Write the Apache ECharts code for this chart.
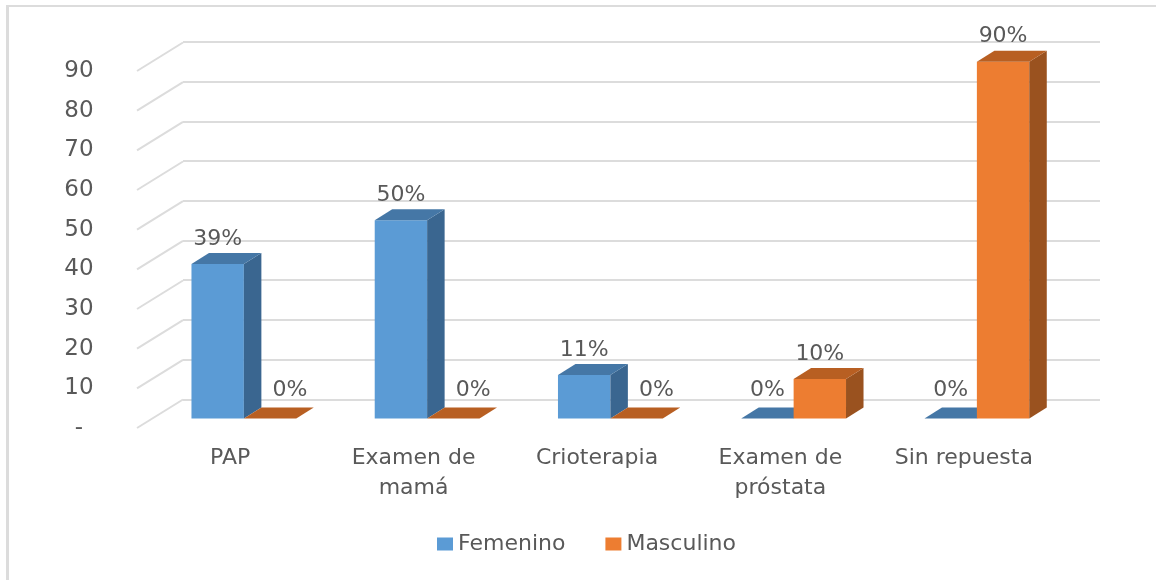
<!DOCTYPE html>
<html>
<head>
<meta charset="utf-8">
<style>
  html, body { margin: 0; padding: 0; background: #fff; }
  #chart { width: 1156px; height: 580px; }
</style>
<script src="https://cdn.jsdelivr.net/npm/echarts@6/dist/echarts.min.js"></script>
</head>
<body>
<div id="chart"></div>
<script>
const categories = ["PAP", "Examen de\nmamá", "Crioterapia", "Examen de\npróstata", "Sin repuesta"];
const femenino = [39, 50, 11, 0, 0];
const masculino = [0, 0, 0, 10, 90];
const ticks = [0, 10, 20, 30, 40, 50, 60, 70, 80, 90];

const FONT = "DejaVu Sans";
const TEXT = "#595959";
const LINE = "#dcdcdc";
// profundidad de la barra y de la pared lateral
const BAR_W = 52.4, BAR_DX = 17.5, BAR_DY = 11;
const WALL_DX = 46, WALL_DY = 28.5;

const shades = {
  blue: { front: "#5b9bd5", side: "#3a6690", top: "#4577a6" },
  orange: { front: "#ed7d31", side: "#9a521f", top: "#b85f22" },
};

function poly(points, fill) {
  return { type: "polygon", shape: { points }, style: { fill } };
}

function barItem(c, seriesIndex) {
  return (params, api) => {
    const cat = api.value(0), val = api.value(1);
    const base = api.coord([cat, 0]);
    const top = api.coord([cat, val]);
    const x0 = base[0] + (seriesIndex ? 0 : -BAR_W);
    const x1 = x0 + BAR_W;
    const children = [];
    if (val > 0) {
      children.push(poly([[x0, base[1]], [x1, base[1]], [x1, top[1]], [x0, top[1]]], c.front));
      children.push(poly([[x1, base[1]], [x1 + BAR_DX, base[1] - BAR_DY], [x1 + BAR_DX, top[1] - BAR_DY], [x1, top[1]]], c.side));
    }
    children.push(poly([[x0, top[1]], [x1, top[1]], [x1 + BAR_DX, top[1] - BAR_DY], [x0 + BAR_DX, top[1] - BAR_DY]], c.top));
    const shift = val === 0 && seriesIndex ? 20 : 0;
    children.push({
      type: "text",
      style: {
        x: (x0 + x1) / 2 + shift,
        y: top[1] - (val === 0 ? 28 : 25),
        text: val + "%",
        fill: TEXT,
        font: "22px '" + FONT + "'",
        align: "center",
        verticalAlign: "middle",
      },
    });
    return { type: "group", children };
  };
}

function pairs(values) {
  return values.map((v, i) => [i, v]);
}

const chart = echarts.init(document.getElementById("chart"));
chart.setOption({
  animation: false,
  backgroundColor: "#fff",
  graphic: [
    { type: "line", shape: { x1: 6, y1: 6, x2: 1156, y2: 6 }, style: { stroke: LINE, lineWidth: 2 } },
    { type: "line", shape: { x1: 7.5, y1: 5, x2: 7.5, y2: 580 }, style: { stroke: LINE, lineWidth: 3 } },
  ],
  legend: {
    left: 432,
    top: 528,
    itemWidth: 16,
    itemHeight: 13,
    itemGap: 40,
    icon: "rect",
    data: ["Femenino", "Masculino"],
    textStyle: { fontFamily: FONT, fontSize: 22, color: TEXT },
  },
  grid: [
    // pared del fondo
    { left: 183, right: 56, top: 42, bottom: 180.7 },
    // plano frontal de los ejes
    { left: 137, right: 102, top: 71, bottom: 152 },
    // plano frontal de las barras
    { left: 152.25, right: 87.5, top: 61.7, bottom: 161.4 },
  ],
  xAxis: [0, 1, 2].map((g) => ({
    type: "category",
    gridIndex: g,
    data: categories,
    axisLine: { show: false },
    axisTick: { show: false },
    axisLabel: g === 1
      ? { show: true, interval: 0, margin: 15, padding: [0, 0, 0, 3], color: TEXT, fontFamily: FONT, fontSize: 22, lineHeight: 30 }
      : { show: false },
  })),
  yAxis: [0, 1, 2].map((g) => ({
    type: "value",
    gridIndex: g,
    min: 0,
    max: 90,
    interval: 10,
    axisLine: { show: false },
    axisTick: { show: false },
    splitLine: { show: g === 0, lineStyle: { color: LINE, width: 2 } },
    axisLabel: g === 1
      ? {
          show: true,
          margin: 58,
          align: "center",
          color: TEXT,
          fontFamily: FONT,
          fontSize: 23,
          formatter: (v) => (v === 0 ? "-" : String(v)),
        }
      : { show: false },
  })),
  series: [
    {
      // diagonales de la pared lateral
      type: "custom",
      xAxisIndex: 1,
      yAxisIndex: 1,
      silent: true,
      clip: false,
      data: ticks.map((t) => [0, t]),
      renderItem: (params, api) => {
        const y = api.coord([0, api.value(1)])[1];
        const x = params.coordSys.x;
        return {
          type: "line",
          shape: { x1: x, y1: y, x2: x + WALL_DX, y2: y - WALL_DY },
          style: { stroke: LINE, lineWidth: 2 },
        };
      },
    },
    {
      name: "Femenino",
      type: "custom",
      xAxisIndex: 2,
      yAxisIndex: 2,
      clip: false,
      itemStyle: { color: shades.blue.front },
      data: pairs(femenino),
      renderItem: barItem(shades.blue, 0),
    },
    {
      name: "Masculino",
      type: "custom",
      xAxisIndex: 2,
      yAxisIndex: 2,
      clip: false,
      itemStyle: { color: shades.orange.front },
      data: pairs(masculino),
      renderItem: barItem(shades.orange, 1),
    },
  ],
});
</script>
</body>
</html>
